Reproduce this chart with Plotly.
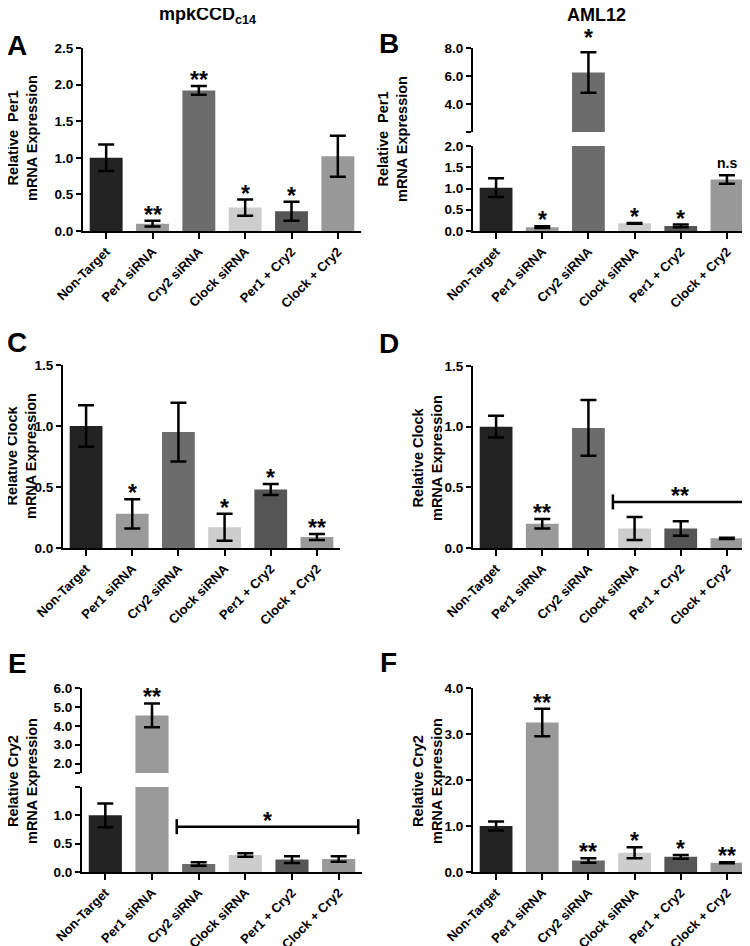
import plotly.graph_objects as go

# The page adds an 8px body margin; figure coordinates are offset to compensate.
OFF = 8
FW, FH = 742, 938

# ---------------- data ----------------
categories = ["Non-Target", "Per1 siRNA", "Cry2 siRNA", "Clock siRNA", "Per1 + Cry2", "Clock + Cry2"]
bar_colors = ["#232323", "#9a9a9a", "#6c6c6c", "#cdcdcd", "#555555", "#999999"]

per1_mpk = [1.00, 0.10, 1.92, 0.32, 0.27, 1.02]
per1_mpk_err = [0.18, 0.04, 0.06, 0.11, 0.13, 0.28]
per1_mpk_sig = ["", "**", "**", "*", "*", ""]

per1_aml = [1.02, 0.09, 6.25, 0.18, 0.12, 1.21]
per1_aml_err = [0.22, 0.02, 1.45, 0.01, 0.03, 0.10]
per1_aml_sig = ["", "*", "*", "*", "*", "n.s"]

clock_mpk = [1.00, 0.28, 0.95, 0.17, 0.48, 0.09]
clock_mpk_err = [0.17, 0.12, 0.24, 0.11, 0.045, 0.025]
clock_mpk_sig = ["", "*", "", "*", "*", "**"]

clock_aml = [1.00, 0.20, 0.99, 0.16, 0.16, 0.08]
clock_aml_err = [0.09, 0.04, 0.23, 0.095, 0.06, 0.005]
clock_aml_sig = ["", "**", "", "", "", ""]
clock_aml_bracket = (3, 5, 0.38, "**")

cry2_mpk = [1.00, 4.55, 0.14, 0.30, 0.22, 0.23]
cry2_mpk_err = [0.21, 0.63, 0.03, 0.03, 0.06, 0.05]
cry2_mpk_sig = ["", "**", "", "", "", ""]
cry2_mpk_bracket = (2, 5, 0.80, "*")

cry2_aml = [1.00, 3.25, 0.25, 0.42, 0.33, 0.20]
cry2_aml_err = [0.10, 0.30, 0.05, 0.12, 0.04, 0.01]
cry2_aml_sig = ["", "**", "**", "*", "*", "**"]

# ---------------- layout helpers ----------------
def fx(p):
    return (p - OFF) / FW

def fy(p):
    return 1 - (p - OFF) / FH

FONT = "Liberation Sans, Arial, sans-serif"

fig = go.Figure()
layout = dict(
    template="none",
    width=FW, height=FH, margin=dict(l=0, r=0, t=0, b=0, pad=0, autoexpand=False),
    paper_bgcolor="white", plot_bgcolor="white", showlegend=False,
    bargap=0.29, barmode="overlay",
)
annotations = []
shapes = []

def xaxis_cfg(x0, x1, yanchor):
    return dict(
        domain=[fx(x0), fx(x1)], anchor=yanchor, range=[-0.5, 5.5], automargin=False,
        tickmode="array", tickvals=list(range(6)), ticktext=categories,
        tickangle=-45, ticks="outside", ticklen=6, tickwidth=2, tickcolor="black",
        showline=True, linecolor="black", linewidth=2, showgrid=False, zeroline=False,
        tickfont=dict(family=FONT, size=13, color="black", weight="bold"),
        fixedrange=True,
    )

def yaxis_cfg(y_top, y_bot, xanchor, rng, tickvals, ticktext):
    return dict(
        domain=[fy(y_bot), fy(y_top)], anchor=xanchor, range=rng, automargin=False,
        tickmode="array", tickvals=tickvals, ticktext=ticktext,
        ticks="outside", ticklen=5, tickwidth=2, tickcolor="black",
        showline=True, linecolor="black", linewidth=2, showgrid=False, zeroline=False,
        tickfont=dict(family=FONT, size=13.5, color="black", weight="bold"),
        fixedrange=True,
    )

def fmt(v):
    return f"{v:.1f}"

def add_bars(xa, ya, vals, errs, keep):
    yv = [v if k else None for v, k in zip(vals, keep)]
    ev = [e if k else None for e, k in zip(errs, keep)]
    fig.add_trace(go.Bar(
        x=list(range(6)), y=yv, xaxis=xa, yaxis=ya,
        marker=dict(color=bar_colors, line=dict(width=0)),
        error_y=dict(type="data", array=ev, visible=True, color="black", thickness=2.5, width=8),
        hoverinfo="skip",
    ))

def add_sig(xa, ya, i, yval, text, extra=0):
    star = "*" in text
    annotations.append(dict(
        x=i, y=yval, xref=xa, yref=ya, text=text, showarrow=False,
        yanchor="bottom", yshift=(-9 if star else 2) + extra,
        font=dict(family=FONT, size=23 if star else 14, color="black", weight="bold"),
    ))

def add_bracket(xa, ya, br):
    i0, i1, yv, text = br
    xl, xr = i0 - 0.47, i1 + 0.42
    line = dict(color="black", width=2.5)
    shapes.append(dict(type="line", xref=xa, yref=ya, x0=xl, x1=xr, y0=yv, y1=yv, line=line))
    for xx in (xl, xr):
        shapes.append(dict(type="line", xref=xa, yref=ya, x0=xx, x1=xx,
                           ysizemode="pixel", yanchor=yv, y0=-7.5, y1=7.5, line=line))
    add_sig(xa, ya, (xl + xr) / 2, yv, text)

def simple_panel(n, xdom, ydom, ymax, step, vals, errs, sig, bracket=None):
    xa, ya = f"x{n}", f"y{n}"
    layout[f"xaxis{n}"] = xaxis_cfg(xdom[0], xdom[1], ya)
    tv = []
    v = 0.0
    while v <= ymax + 1e-9:
        tv.append(round(v, 3))
        v += step
    layout[f"yaxis{n}"] = yaxis_cfg(ydom[0], ydom[1], xa, [0, ymax], tv, [fmt(t) for t in tv])
    add_bars(xa, ya, vals, errs, [True] * 6)
    for i, s in enumerate(sig):
        if s:
            add_sig(xa, ya, i, vals[i] + errs[i], s)
    if bracket:
        add_bracket(xa, ya, bracket)

def broken_panel(n, nu, xdom, ylow, yup, low_rng, low_ticks, low_text, up_rng, up_ticks, up_text,
                 vals, errs, sig, up_extra=0):
    xa, ya, yu = f"x{n}", f"y{n}", f"y{nu}"
    layout[f"xaxis{n}"] = xaxis_cfg(xdom[0], xdom[1], ya)
    layout[f"yaxis{n}"] = yaxis_cfg(ylow[0], ylow[1], xa, low_rng, low_ticks, low_text)
    layout[f"yaxis{nu}"] = yaxis_cfg(yup[0], yup[1], xa, up_rng, up_ticks, up_text)
    big = [v > low_rng[1] for v in vals]
    add_bars(xa, ya, vals, errs, [not b for b in big])
    # big bars: fill lower segment (no error bar) and the upper segment
    fig.add_trace(go.Bar(
        x=list(range(6)), y=[v if b else None for v, b in zip(vals, big)], xaxis=xa, yaxis=ya,
        marker=dict(color=bar_colors, line=dict(width=0)), hoverinfo="skip"))
    add_bars(xa, yu, vals, errs, big)
    for i, s in enumerate(sig):
        if s:
            add_sig(xa, yu if big[i] else ya, i, vals[i] + errs[i], s,
                    extra=up_extra if big[i] else 0)

# Panel A
simple_panel(1, (83, 361), (48, 231), 2.5, 0.5, per1_mpk, per1_mpk_err, per1_mpk_sig)
# Panel B (broken axis)
broken_panel(2, 7, (473, 750), (146, 231), (48, 132),
             [0, 2], [0, 0.5, 1, 1.5, 2], ["0.0", "0.5", "1.0", "1.5", "2.0"],
             [2, 8], [2, 4, 6, 8], ["", "4.0", "6.0", "8.0"],
             per1_aml, per1_aml_err, per1_aml_sig, up_extra=8)
# Panel C
simple_panel(3, (63, 340), (365, 548), 1.5, 0.5, clock_mpk, clock_mpk_err, clock_mpk_sig)
# Panel D
simple_panel(4, (473, 750), (366, 548), 1.5, 0.5, clock_aml, clock_aml_err, clock_aml_sig,
             bracket=clock_aml_bracket)
# Panel E (broken axis)
broken_panel(5, 8, (82, 362), (787, 872), (688, 773),
             [0, 1.5], [0, 0.5, 1, 1.5], ["0.0", "0.5", "1.0", ""],
             [1.5, 6], [1.5, 2, 3, 4, 5, 6], ["", "2.0", "3.0", "4.0", "5.0", "6.0"],
             cry2_mpk, cry2_mpk_err, cry2_mpk_sig)
add_bracket("x5", "y5", cry2_mpk_bracket)
# Panel F
simple_panel(6, (473, 750), (688, 872), 4.0, 1.0, cry2_aml, cry2_aml_err, cry2_aml_sig)

# ---------------- text ----------------
def paper_text(x, y, text, size, angle=0):
    annotations.append(dict(
        x=fx(x), y=fy(y), xref="paper", yref="paper", text=text, showarrow=False,
        xanchor="center", yanchor="middle", textangle=angle,
        font=dict(family=FONT, size=size, color="black", weight="bold"),
    ))

paper_text(207, 16, "mpkCCD<sub>c14</sub>", 18)
paper_text(596, 15, "AML12", 18)

for lx, ly, letter in [(17, 45, "A"), (389, 43, "B"), (17, 342, "C"),
                       (389, 343, "D"), (17, 663, "E"), (388, 662, "F")]:
    paper_text(lx, ly, letter, 28)

for tx, ty, t in [(22, 138, "Relative  Per1<br>mRNA Expression"),
                  (392, 139, "Relative  Per1<br>mRNA Expression"),
                  (21, 456, "Relative Clock<br>mRNA Expression"),
                  (427, 458, "Relative Clock<br>mRNA Expression"),
                  (22, 781, "Relative Cry2<br>mRNA Expression"),
                  (427, 781, "Relative Cry2<br>mRNA Expression")]:
    paper_text(tx, ty, t, 14.5, angle=-90)

layout["annotations"] = annotations
layout["shapes"] = shapes
fig.update_layout(**layout)

fig.write_html("out.html")
